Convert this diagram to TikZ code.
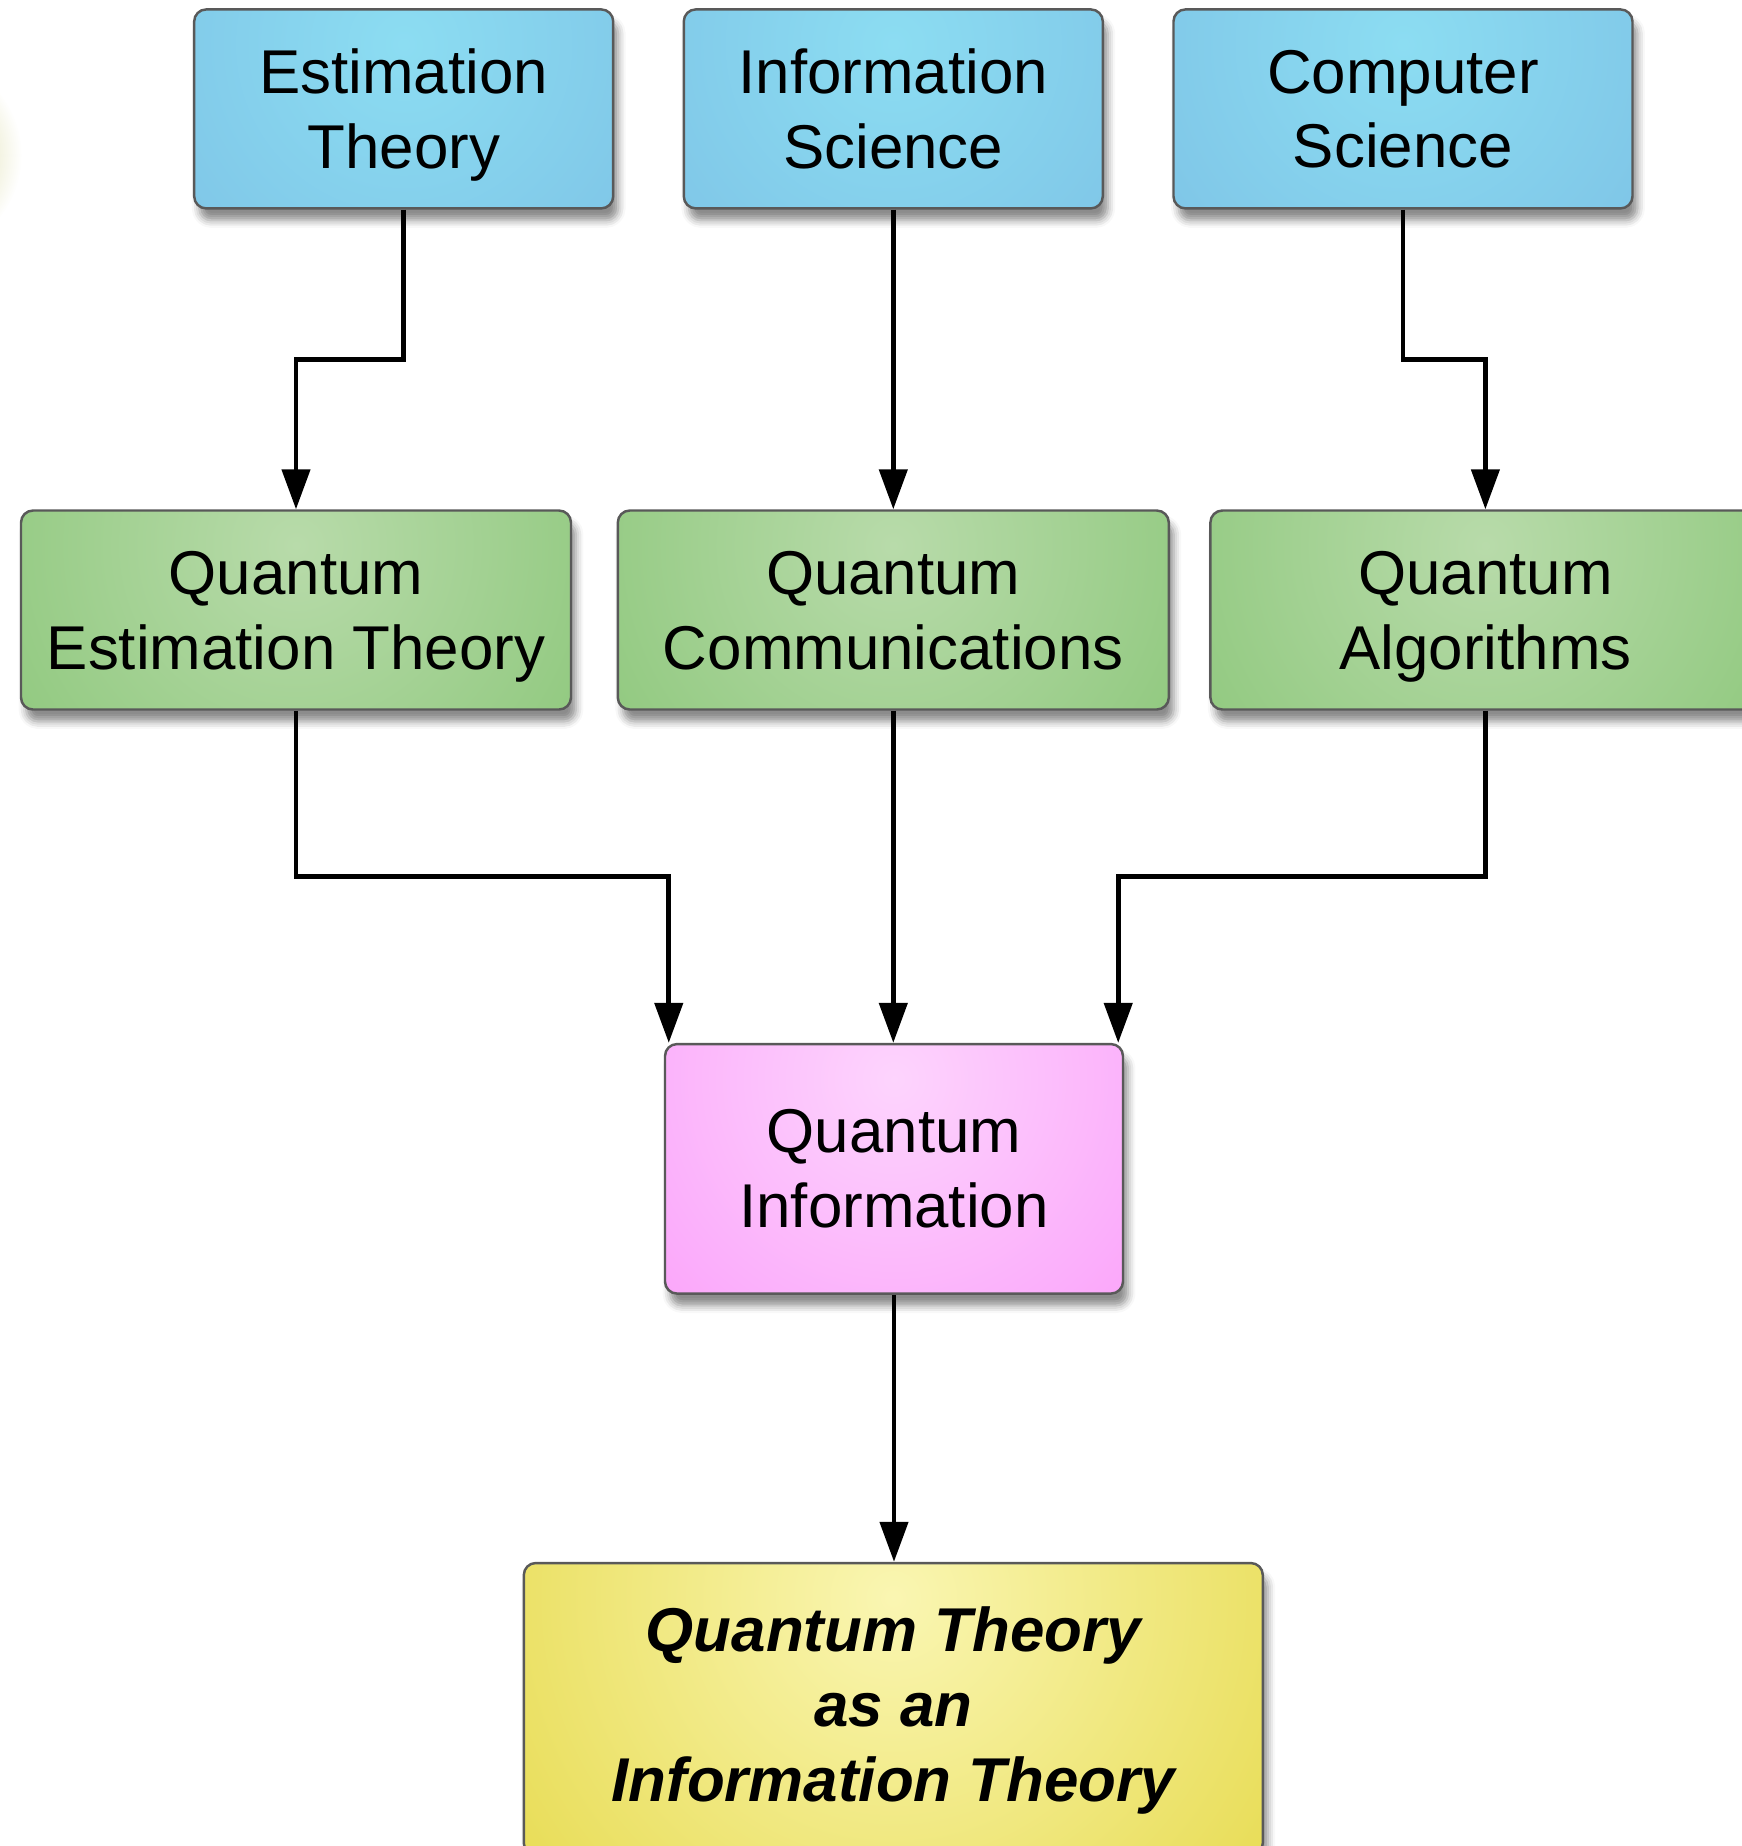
\documentclass[tikz,border=0pt]{standalone}
\usepackage{fontspec}
\setmainfont{Liberation Sans}
\usetikzlibrary{arrows.meta,shadows.blur,calc}
\definecolor{blueIn}{RGB}{140,221,242}
\definecolor{blueOut}{RGB}{115,176,221}
\definecolor{greenIn}{RGB}{184,219,170}
\definecolor{greenOut}{RGB}{119,189,99}
\definecolor{pinkIn}{RGB}{253,212,253}
\definecolor{pinkOut}{RGB}{249,132,248}
\definecolor{yellowIn}{RGB}{250,246,178}
\definecolor{yellowOut}{RGB}{228,215,66}
\definecolor{glowYellow}{RGB}{205,205,130}
\begin{document}
\begin{tikzpicture}[
  box/.style 2 args={draw=black!65, line width=0.7pt, rounded corners=1.2mm,
    minimum height=1.99cm, align=center, text depth=0pt, font=\fontsize{17.6}{21.3}\selectfont,
    fill=#2, blur shadow={shadow xshift=0.5mm, shadow yshift=-1.2mm, shadow opacity=45},
    path picture={\shade[inner color=#1, outer color=#2]
      ($(path picture bounding box.north)+(0,-0.35)$) circle (5.6cm);}},
  flow/.style={line width=1.3pt, -{Triangle[length=4mm,width=2.8mm]}}]
  \useasboundingbox (0,0) rectangle (17.42,-18.46);
  \shade[inner color=glowYellow, outer color=white] (-0.78,-1.55) circle (1.0);

  \node[box={blueIn}{blueOut}, minimum width=4.19cm] (est) at (4.037,-1.089) {Estimation\\Theory};
  \node[box={blueIn}{blueOut}, minimum width=4.19cm] (infosci) at (8.933,-1.089) {Information\\Science};
  \node[box={blueIn}{blueOut}, minimum width=4.59cm] (compsci) at (14.03,-1.089) {Computer\\Science};

  \node[box={greenIn}{greenOut}, minimum width=5.50cm] (qet) at (2.96,-6.10) {Quantum\\Estimation Theory};
  \node[box={greenIn}{greenOut}, minimum width=5.51cm] (qcomm) at (8.933,-6.10) {Quantum\\Communications};
  \node[box={greenIn}{greenOut}, minimum width=5.50cm] (qalg) at (14.854,-6.10) {Quantum\\Algorithms};

  \node[box={pinkIn}{pinkOut}, minimum width=4.58cm, minimum height=2.495cm] (qi) at (8.94,-11.688) {Quantum\\Information};

  \node[box={yellowIn}{yellowOut}, minimum width=7.39cm, minimum height=2.92cm, text depth=3pt,
    font=\fontsize{17.6}{21.3}\selectfont\bfseries\itshape] (qtheory) at (8.933,-17.09)
    {Quantum Theory\\as an\\Information Theory};

  \draw[flow] (est.south) -- ++(0,-1.5) -| (qet.north);
  \draw[flow] (infosci.south) -- (qcomm.north);
  \draw[flow] (compsci.south) -- ++(0,-1.5) -| (qalg.north);
  \draw[flow] (qet.south) -- ++(0,-1.66) -| ([xshift=0.5mm]qi.north west);
  \draw[flow] (qcomm.south) -- (qcomm.south |- qi.north);
  \draw[flow] (qalg.south) -- ++(0,-1.66) -| ([xshift=-0.6mm]qi.north east);
  \draw[flow] (qi.south) -- (qi.south |- qtheory.north);
\end{tikzpicture}
\end{document}
